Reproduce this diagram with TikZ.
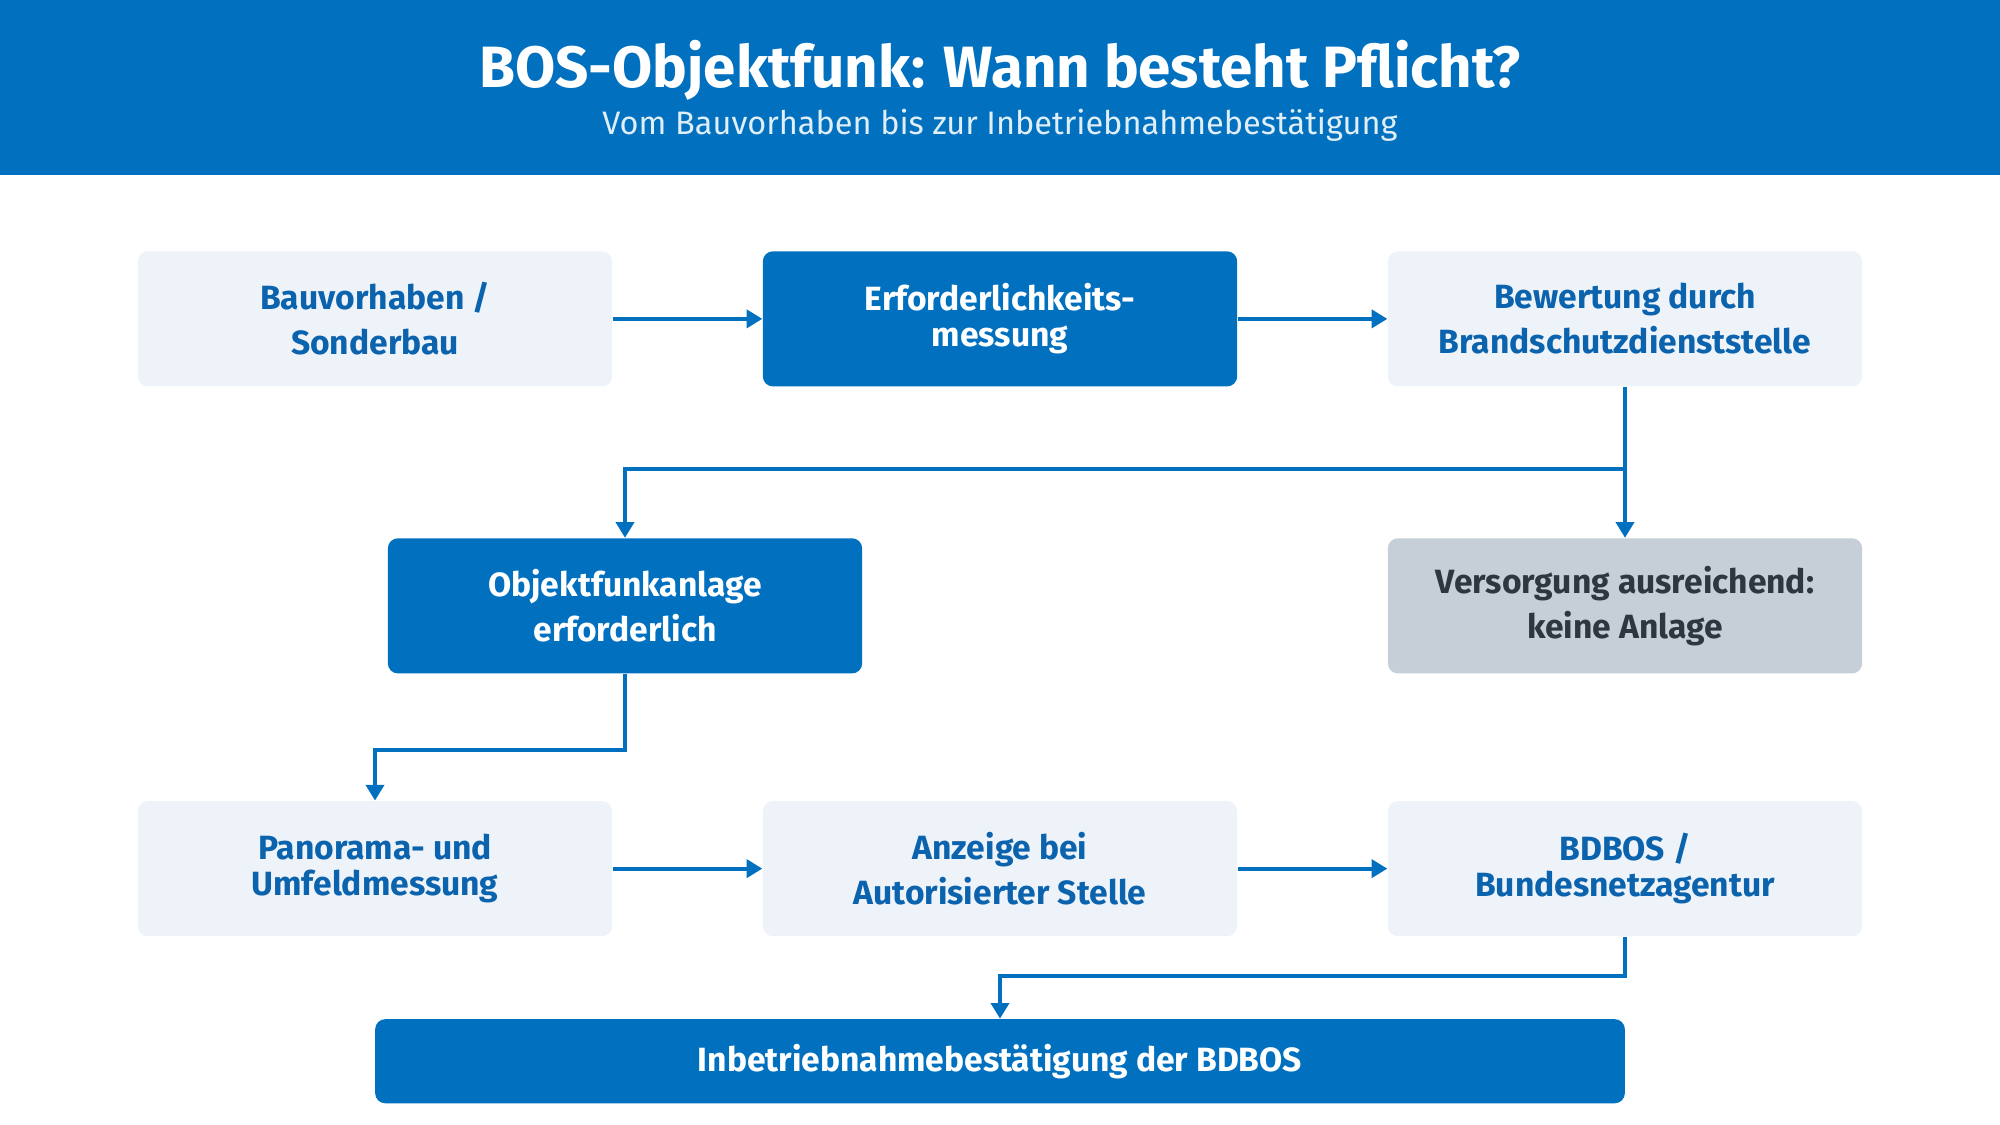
\documentclass[tikz,border=0pt]{standalone}
\usepackage{fontspec}
\setmainfont{Fira Sans}
\usetikzlibrary{arrows.meta}
\definecolor{bblue}{HTML}{0070BF}
\definecolor{tblue}{HTML}{0B63AD}
\definecolor{lbox}{HTML}{EEF3FA}
\definecolor{gbox}{HTML}{C6CED8}
\definecolor{gtext}{HTML}{2E3640}
\begin{document}
\begin{tikzpicture}[x=0.02cm,y=-0.02cm,
  box/.style={rectangle,rounded corners=0.16cm,minimum width=7.44cm,minimum height=2.12cm,align=center,font=\fontsize{15}{20}\selectfont\bfseries,inner sep=0pt},
  light/.style={box,fill=lbox,text=tblue},
  dark/.style={box,fill=bblue,text=white},
  grey/.style={box,fill=gbox,text=gtext},
  conn/.style={draw=bblue,line width=1.7pt,-{Triangle[length=7pt,width=8pt]}}]
\useasboundingbox (0,0) rectangle (1568,882);
\fill[bblue] (0,0) rectangle (1568,137);
\node[text=white,font=\fontsize{26}{30}\selectfont\bfseries] (title) at (784,55) {BOS-Objektfunk: Wann besteht Pflicht?};
\node[text=white!88!bblue,font=\fontsize{14.5}{18}\selectfont] (sub) at (784,98) {Vom Bauvorhaben bis zur Inbetriebnahmebestätigung};
\node[light] (a) at (294,250) {Bauvorhaben /\\Sonderbau};
\node[dark] (b) at (784,250) {Erforderlichkeits-\\[-4pt]messung};
\node[light] (c) at (1274,250) {Bewertung durch\\Brandschutzdienststelle};
\node[dark] (d) at (490,475) {Objektfunkanlage\\erforderlich};
\node[grey] (e) at (1274,475) {Versorgung ausreichend:\\keine Anlage};
\node[light] (f) at (294,681) {Panorama- und\\[-4pt]Umfeldmessung};
\node[light] (g) at (784,681) {Anzeige bei\\Autorisierter Stelle};
\node[light] (h) at (1274,681) {BDBOS /\\[-4pt]Bundesnetzagentur};
\node[dark,minimum width=19.6cm,minimum height=1.32cm] (i) at (784,832) {Inbetriebnahmebestätigung der BDBOS};
\draw[conn] (a) -- (b);
\draw[conn] (b) -- (c);
\draw[conn] (c.south) -- (e.north);
\coordinate (br) at (1274,368);
\draw[conn] (br) -| (d.north);
\draw[conn] (d.south) |- (392,588) -| (f.north);
\draw[conn] (f) -- (g);
\draw[conn] (g) -- (h);
\draw[conn] (h.south) |- (1000,765) -| (i.north);
\end{tikzpicture}
\end{document}
